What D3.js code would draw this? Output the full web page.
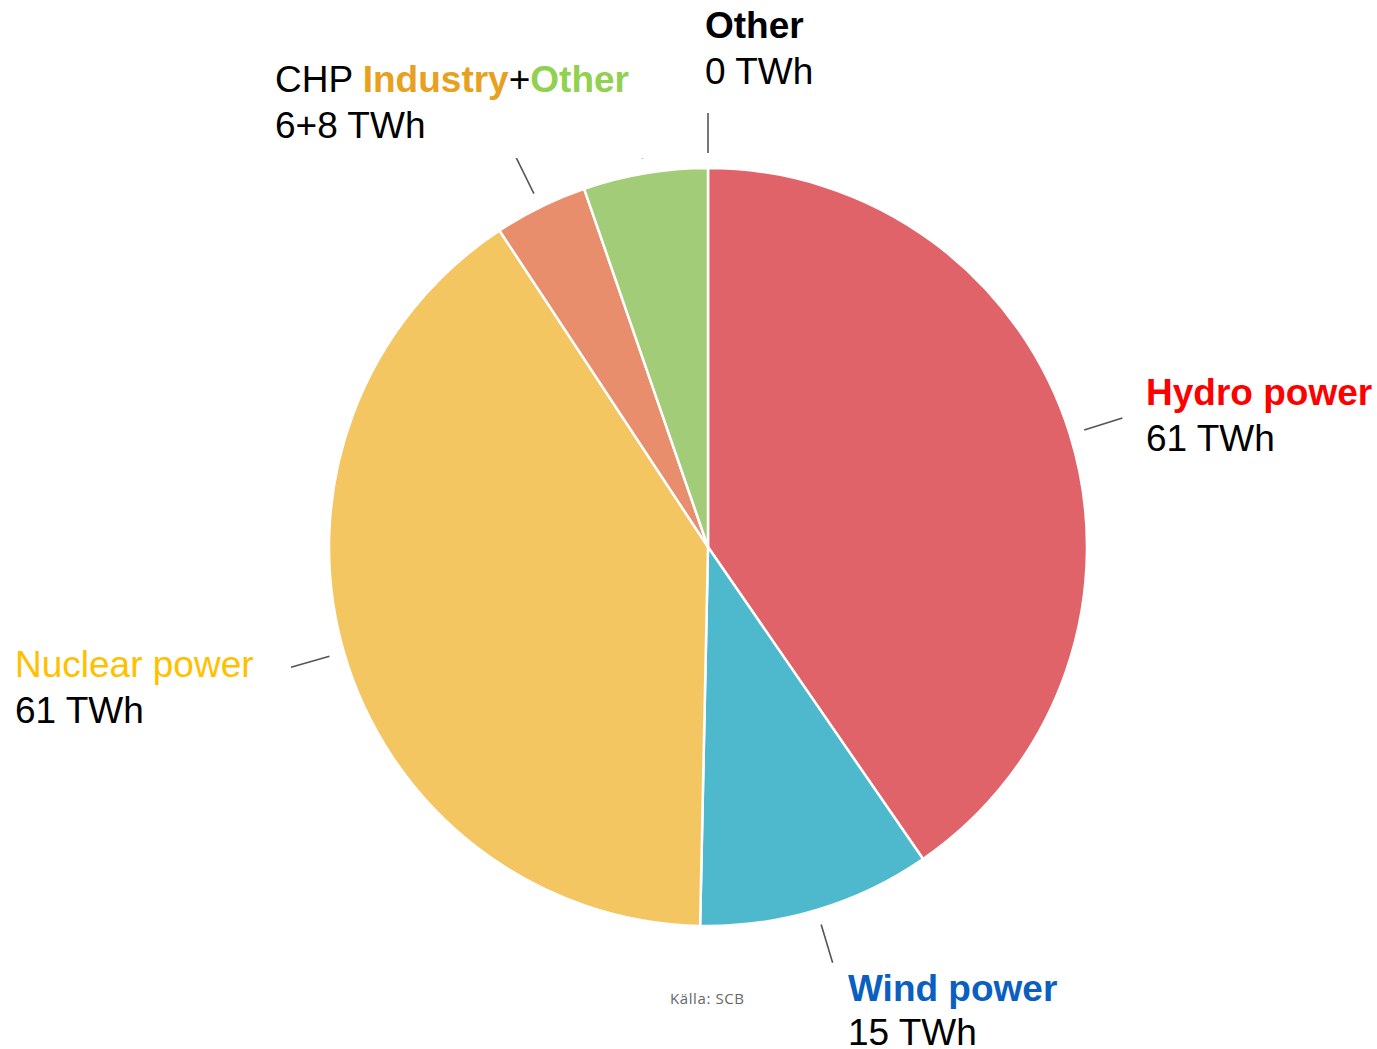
<!DOCTYPE html>
<html><head><meta charset="utf-8">
<script src="https://cdn.jsdelivr.net/npm/d3@7"></script>
<style>body{margin:0;background:#fff;}svg{display:block;}</style>
</head><body>
<svg id="c" width="1377" height="1049"></svg>
<script>
const categories = ["Hydro power", "Wind power", "Nuclear power", "CHP Industry", "CHP Other", "Other"];
const values = [61, 15, 61, 6, 8, 0];
const sliceColors = ["#df6368", "#4eb9cd", "#f4c661", "#e88e6d", "#a3cc79", "#999999"];
const valueLabels = ["61 TWh", "15 TWh", "61 TWh", "6+8 TWh", "0 TWh"];
const source = "Källa: SCB";

const svg = d3.select("#c");
const cx = 708, cy = 547, R = 379;
const data = categories.map((c, i) => ({name: c, value: values[i], color: sliceColors[i]}));
const pie = d3.pie().sort(null).value(d => d.value).startAngle(0).endAngle(2 * Math.PI);
const arcs = pie(data);
const arc = d3.arc().innerRadius(0).outerRadius(R);

svg.append("defs").append("clipPath").attr("id", "clipTop")
  .append("rect").attr("x", 0).attr("y", 158).attr("width", 1377).attr("height", 900);

const g = svg.append("g").attr("transform", `translate(${cx},${cy})`);
g.selectAll("path.slice").data(arcs.filter(d => d.value > 0)).join("path")
  .attr("class", "slice")
  .attr("d", arc)
  .attr("fill", d => d.data.color)
  .attr("stroke", "#fff").attr("stroke-width", 2.5).attr("stroke-linejoin", "round");

// leader lines
const lineInner = d3.arc().innerRadius(394).outerRadius(394);
const lineOuter = d3.arc().innerRadius(434).outerRadius(434);
const lg = svg.append("g");
arcs.forEach(d => {
  const p1 = lineInner.centroid(d), p2 = lineOuter.centroid(d);
  const isCHP = d.data.name.startsWith("CHP");
  lg.append("line")
    .attr("x1", cx + p1[0]).attr("y1", cy + p1[1])
    .attr("x2", cx + p2[0]).attr("y2", cy + p2[1])
    .attr("stroke", "#555").attr("stroke-width", 1.6)
    .attr("clip-path", isCHP ? "url(#clipTop)" : null);
});

const font = "'Liberation Sans', Arial, sans-serif";
const fs = 37;
function label(x, y, parts, second, gap) {
  const t = svg.append("text").attr("x", x).attr("y", y)
    .attr("font-family", font).attr("font-size", fs);
  parts.forEach(p => t.append("tspan").text(p.t).attr("fill", p.c).attr("font-weight", p.b ? "bold" : "normal"));
  svg.append("text").attr("x", x).attr("y", y + (gap || 46))
    .attr("font-family", font).attr("font-size", fs).attr("fill", "#000").text(second);
}
label(1146, 405, [{t: "Hydro power", c: "#ff0000", b: true}], valueLabels[0]);
label(848, 1001, [{t: "Wind power", c: "#0a5fc0", b: true}], valueLabels[1], 44);
label(15, 677, [{t: "Nuclear power", c: "#ffc000", b: false}], valueLabels[2]);
label(275, 92, [{t: "CHP ", c: "#000", b: false}, {t: "Industry", c: "#e8a020", b: true},
                {t: "+", c: "#000", b: false}, {t: "Other", c: "#92d050", b: true}], valueLabels[3]);
label(705, 38, [{t: "Other", c: "#000", b: true}], valueLabels[4]);

svg.append("text").attr("x", 670).attr("y", 1004)
  .attr("font-family", "'Open Sans', sans-serif").attr("font-size", 15)
  .attr("letter-spacing", 0.6)
  .attr("fill", "#666").text(source);
</script>
</body></html>
